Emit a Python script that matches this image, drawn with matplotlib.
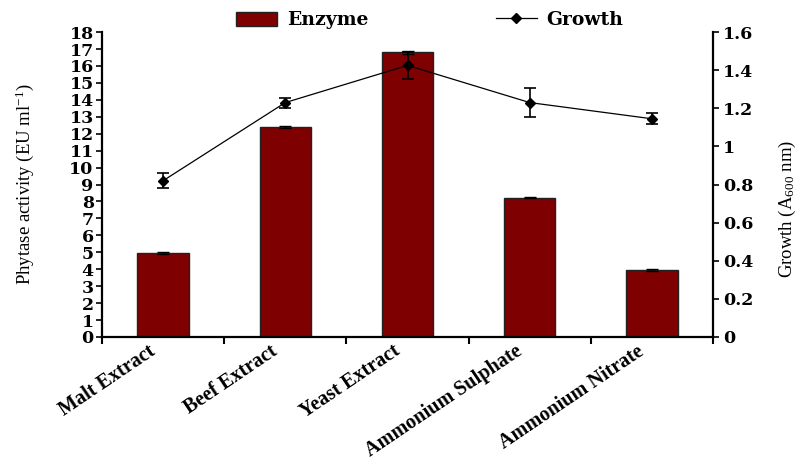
import matplotlib
matplotlib.use("Agg")
import matplotlib.pyplot as plt
from matplotlib.lines import Line2D
import numpy as np

categories = ["Malt Extract", "Beef Extract", "Yeast Extract",
              "Ammonium Sulphate", "Ammonium Nitrate"]
enzyme = [4.95, 12.38, 16.8, 8.22, 3.95]
enzyme_err = [0.05, 0.05, 0.1, 0.03, 0.06]
growth = [0.82, 1.23, 1.425, 1.23, 1.145]
growth_err = [0.04, 0.026, 0.07, 0.075, 0.03]
left_ticks = list(range(0, 19))
right_ticks = [0, 0.2, 0.4, 0.6, 0.8, 1, 1.2, 1.4, 1.6]
right_labels = ["0", "0.2", "0.4", "0.6", "0.8", "1", "1.2", "1.4", "1.6"]

plt.rcParams["font.family"] = ["Liberation Serif", "DejaVu Serif"]
plt.rcParams["mathtext.fontset"] = "custom"
plt.rcParams["mathtext.rm"] = "Liberation Serif"
plt.rcParams["mathtext.it"] = "Liberation Serif:italic"

tick_font = dict(family="DejaVu Serif", weight="bold", size=12.5)

fig = plt.figure(figsize=(8.03, 4.62), dpi=100)
ax = fig.add_axes([0.127, 0.2706, 0.761, 0.660])
x = np.arange(len(categories))

bars = ax.bar(x, enzyme, width=0.42, color="#7f0000", edgecolor="#222222",
              linewidth=1.0, yerr=enzyme_err,
              error_kw=dict(ecolor="black", elinewidth=1.0, capsize=4, capthick=1.0),
              label="Enzyme", zorder=2)

ax.set_xlim(-0.5, len(categories) - 0.5)
ax.set_ylim(0, 18)
ax.set_yticks(left_ticks)
ax.set_yticklabels([str(t) for t in left_ticks], **tick_font)

# category names, slanted and set slightly left of each bar centre
ax.set_xticks(x)
ax.set_xticklabels([""] * len(categories))
ax.tick_params(axis="x", which="major", length=0)
for xi, name in zip(x, categories):
    ax.annotate(name, xy=(xi, 0), xycoords=("data", "axes fraction"),
                xytext=(-11, -3), textcoords="offset points",
                rotation=34, rotation_mode="anchor", ha="right", va="top",
                fontsize=14.5, fontweight="bold", annotation_clip=False)

ax.set_xticks(np.arange(-0.5, len(categories)), minor=True)
ax.tick_params(axis="x", which="minor", length=5, width=1.5, direction="out")
ax.tick_params(axis="y", length=4, width=1.2, direction="out", pad=2)
for side in ("top", "right"):
    ax.spines[side].set_visible(False)
ax.spines["left"].set_linewidth(1.6)
ax.spines["bottom"].set_linewidth(1.6)
ax.set_ylabel("Phytase activity (EU ml$^{-1}$)", fontsize=13.5)
ax.yaxis.set_label_coords(-0.108, 0.5)

ax2 = ax.twinx()
line = ax2.errorbar(x, growth, yerr=growth_err, color="black", linewidth=0.9,
                    marker="D", markersize=5.5, ecolor="black", elinewidth=1.2,
                    capsize=4, capthick=1.2, label="Growth", zorder=3)
ax2.set_ylim(0, 1.6)
ax2.set_yticks(right_ticks)
ax2.set_yticklabels(right_labels, **tick_font)
ax2.tick_params(axis="y", length=4, width=1.2, direction="out", pad=3)
for side in ("top", "left", "bottom"):
    ax2.spines[side].set_visible(False)
ax2.spines["right"].set_linewidth(1.6)
ax2.set_ylabel("Growth (A$_{600}$ nm)", fontsize=13.5)
ax2.yaxis.set_label_coords(1.104, 0.42)

growth_handle = Line2D([], [], color="black", linewidth=0.9, marker="D",
                       markersize=5.5)
fig.legend([bars, growth_handle], ["Enzyme", "Growth"], loc="upper center",
           bbox_to_anchor=(0.535, 1.012), ncol=2, frameon=False,
           prop=dict(family="DejaVu Serif", weight="bold", size=13.5),
           handlelength=2.2, handleheight=0.8, columnspacing=6.8,
           handletextpad=0.5)

fig.savefig("out.png", dpi=100)
